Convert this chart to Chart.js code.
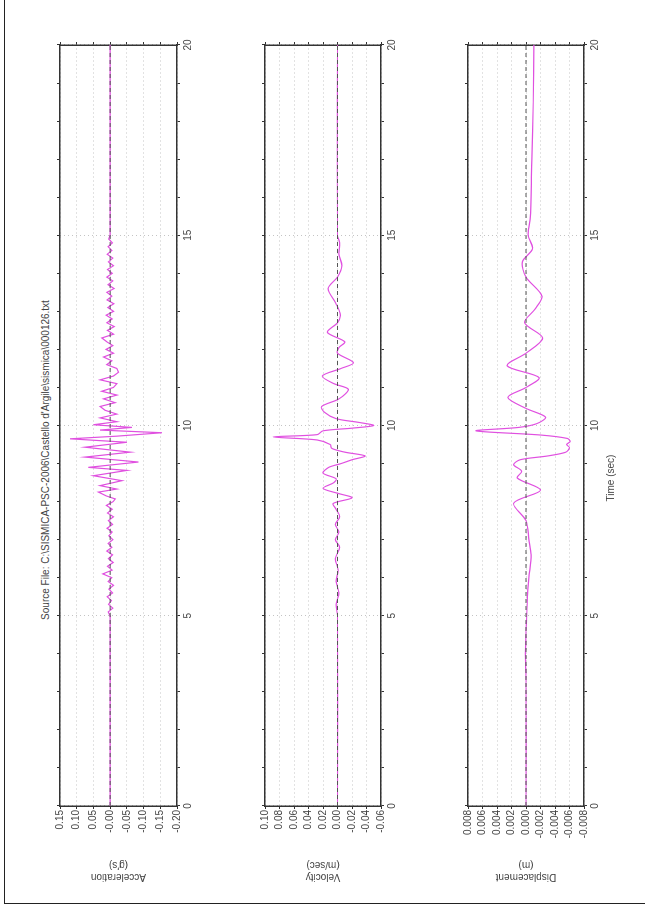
<!DOCTYPE html>
<html>
<head>
<meta charset="utf-8">
<script src="https://cdn.jsdelivr.net/npm/chart.js@4.4.1/dist/chart.umd.min.js"></script>
<style>
  body { margin: 0; background: #fff; width: 645px; height: 913px; overflow: hidden; position: relative; font-family: "Liberation Sans", Arial, sans-serif; }
  #frame { position: absolute; left: 4px; top: -2px; width: 700px; height: 905px; border-left: 1px solid #222; border-bottom: 1px solid #222; }
  /* the whole sheet is drawn landscape, then turned a quarter left */
  #page { position: absolute; left: 0; top: 0; width: 913px; height: 645px; transform-origin: 0 0; transform: translateY(913px) rotate(-90deg); }
  #page canvas { position: absolute; left: 0; }
  .lbl { position: absolute; color: #444; font-size: 10px; white-space: nowrap; transform: translate(-50%, -50%); }
</style>
</head>
<body>
<div id="frame"></div>
<div id="page">
  <div class="lbl" id="source" style="left:453px; top:45px;"></div>
  <canvas id="accChart" width="913" height="177" style="top:30px"></canvas>
  <canvas id="velChart" width="913" height="176" style="top:235px"></canvas>
  <canvas id="dispChart" width="913" height="176" style="top:438px"></canvas>
  <div class="lbl" id="timeTitle" style="left:435px; top:610px;"></div>
</div>
<script>
var sourceFile = "Source File: C:\\SISMICA-PSC-2006\\Castello d'Argile\\sismica\\000126.txt";
var timeTitle = 'Time (sec)';
var timeRange = [0, 20];

var accTitle = ['Acceleration', "(g's)"];
var accRange = [-0.20, 0.15];
var accTime = [0, 5.0, 5.1, 5.2, 5.3, 5.4, 5.5, 5.6, 5.7, 5.8, 5.9,
  6.0, 6.1, 6.2, 6.3, 6.4, 6.5, 6.6, 6.7, 6.8, 6.9,
  7.0, 7.1, 7.2, 7.3, 7.4, 7.5, 7.6, 7.7, 7.8, 7.9,
  8.0, 8.07, 8.15, 8.25, 8.33, 8.42, 8.55, 8.68, 8.82, 8.90,
  9.04, 9.17, 9.30, 9.43, 9.56, 9.65, 9.72, 9.81, 9.88, 9.95,
  10.02, 10.10, 10.2, 10.3, 10.4, 10.5, 10.6, 10.7, 10.8, 10.9,
  11.0, 11.1, 11.2, 11.3, 11.4, 11.5, 11.6, 11.7, 11.8, 11.9,
  12.0, 12.1, 12.2, 12.3, 12.4, 12.5, 12.6, 12.7, 12.8, 12.9,
  13.0, 13.1, 13.2, 13.3, 13.4, 13.5, 13.6, 13.7, 13.8, 13.9,
  14.0, 14.1, 14.2, 14.3, 14.4, 14.5, 14.6, 14.7, 14.8, 14.9,
  15.0, 20];
var accValues = [0, 0, 0.006, -0.008, 0.005, -0.004, 0.009, -0.007, 0.004, -0.010, 0.006,
  -0.005, 0.022, -0.006, 0.008, -0.009, 0.005, -0.007, 0.010, -0.005, 0.006,
  -0.008, 0.004, -0.006, 0.009, -0.007, 0.005, -0.010, 0.008, -0.006, 0.011,
  -0.009, -0.015, 0.012, 0.035, -0.020, 0.030, -0.035, 0.050, -0.050, 0.065,
  -0.085, 0.075, -0.060, 0.075, -0.050, 0.120, -0.020, -0.155, 0.030, -0.065,
  0.050, -0.020, 0.030, -0.020, 0.015, 0.030, -0.015, 0.020, -0.020, 0.025,
  -0.010, -0.020, 0.030, -0.010, -0.025, -0.020, 0.010, -0.005, 0.020, -0.010,
  0.012, -0.008, 0.010, 0.025, -0.010, 0.008, -0.012, 0.010, -0.006, 0.012,
  -0.010, 0.007, -0.011, 0.009, -0.005, 0.010, -0.012, 0.006, -0.008, 0.010,
  -0.006, 0.008, -0.010, 0.005, -0.008, 0.009, -0.005, 0.006, -0.007, 0.004,
  0, 0];

var velTitle = ['Velocity', '(m/sec)'];
var velRange = [-0.06, 0.10];
var velTime = [0, 5.0, 5.3, 5.6, 5.9, 6.2, 6.5, 6.8, 7.0, 7.2, 7.4, 7.6, 7.8, 7.95,
  8.1, 8.22, 8.35, 8.5, 8.6, 8.75, 8.9, 9.0, 9.1, 9.2, 9.3, 9.4, 9.5,
  9.62, 9.70, 9.76, 9.86, 9.93, 10.0, 10.08, 10.18, 10.35, 10.5, 10.7, 10.95,
  11.1, 11.3, 11.5, 11.65, 11.9, 12.05, 12.2, 12.45, 12.7, 12.9, 13.2, 13.6,
  13.9, 14.2, 14.5, 14.8, 15.0, 20];
var velValues = [0, 0, 0.002, -0.002, 0.002, -0.001, 0.003, -0.003, 0.003, -0.002, 0.003, -0.003, 0.002, 0.006,
  -0.020, 0.000, 0.020, 0.005, 0.002, 0.020, 0.012, -0.005, -0.020, -0.038, -0.010, 0.008, 0.010,
  0.028, 0.089, 0.028, 0.020, -0.020, -0.050, -0.030, 0.002, 0.018, 0.022, -0.002, -0.015,
  0.005, 0.021, -0.005, -0.022, 0.000, -0.002, -0.010, 0.014, 0.000, -0.004, 0.002, 0.013,
  0.000, -0.006, -0.002, -0.003, 0, 0];

var dispTitle = ['Displacement', '(m)'];
var dispRange = [-0.008, 0.008];
var dispTime = [0, 3.3, 4.0, 4.6, 5.0, 5.5, 6.0, 6.6, 7.0, 7.5, 7.96,
  8.3, 8.62, 8.8, 8.97, 9.1, 9.2, 9.3, 9.42, 9.5, 9.58, 9.66, 9.75, 9.86, 9.95,
  10.05, 10.22, 10.45, 10.74, 11.0, 11.26, 11.57, 11.9, 12.3, 12.7, 13.05, 13.4,
  13.9, 14.3, 14.65, 15.0, 15.5, 17.0, 18.5, 20];
var dispValues = [0, 0, 0.0001, 0, -0.0001, -0.0002, -0.0004, -0.0007, -0.0004, 0, 0.0017,
  -0.0020, 0.0012, 0.0006, 0.0017, 0.0008, -0.0030, -0.0055, -0.0060, -0.0056, -0.0061, -0.0057, -0.0020, 0.0069, 0.0010,
  -0.0015, -0.0027, 0, 0.0025, 0, -0.0018, 0.0026, 0, -0.0023, 0.0002, -0.0012, -0.0022,
  0, 0.0005, -0.0009, -0.0003, -0.0006, -0.0008, -0.0010, -0.0011];

var FONT = '"Liberation Sans", Arial, sans-serif';
var INK = '#333';
var TEXT = '#444';
var GRID = '#c4c4c4';
var TRACE = '#e050e0';

Chart.defaults.font.family = FONT;
Chart.defaults.font.size = 10;

document.getElementById('source').textContent = sourceFile;
document.getElementById('timeTitle').textContent = timeTitle;

function makePanel(id, times, values, range, step, digits, title, tension) {
  var points = times.map(function(t, i) { return {x: t, y: values[i]}; });
  var zero = [{x: timeRange[0], y: 0}, {x: timeRange[1], y: 0}];
  var frame = {color: INK, width: 1.5, dash: [1, 3]};

  return new Chart(document.getElementById(id), {
    type: 'line',
    data: {
      datasets: [
        {data: zero, borderColor: '#555', borderWidth: 1, borderDash: [4, 3], pointRadius: 0},
        {data: points, borderColor: TRACE, borderWidth: 1.2, pointRadius: 0, tension: tension}
      ]
    },
    options: {
      responsive: false,
      animation: false,
      plugins: {legend: {display: false}, tooltip: {enabled: false}},
      scales: {
        x: {
          type: 'linear', position: 'bottom', min: timeRange[0], max: timeRange[1],
          afterFit: function(s) { s.height = 30; },
          ticks: {
            stepSize: 1, autoSkip: false, maxRotation: 0, padding: 2, color: TEXT,
            callback: function(v) { return v % 5 === 0 ? String(v) : ''; }
          },
          grid: {
            color: function(c) { return c.tick && c.tick.value % 5 === 0 ? GRID : 'rgba(0,0,0,0)'; },
            tickColor: INK, tickLength: 3
          },
          border: frame
        },
        x2: {
          type: 'linear', position: 'top', min: timeRange[0], max: timeRange[1],
          afterFit: function(s) { s.height = 30; },
          ticks: {stepSize: 1, display: false},
          grid: {drawOnChartArea: false, tickColor: INK, tickLength: 3},
          border: frame
        },
        y: {
          type: 'linear', position: 'left', min: range[0], max: range[1],
          afterFit: function(s) { s.width = 107; },
          ticks: {
            stepSize: step, autoSkip: false, padding: 1, color: TEXT,
            callback: function(v) { return Number(v).toFixed(digits); }
          },
          grid: {color: GRID, tickColor: INK, tickLength: 3},
          border: frame,
          title: {display: true, text: title, color: TEXT, font: {size: 10}, padding: {top: 30, bottom: 0}}
        },
        y2: {
          type: 'linear', position: 'right', min: range[0], max: range[1],
          afterFit: function(s) { s.width = 45; },
          ticks: {stepSize: step, autoSkip: false, display: false},
          grid: {drawOnChartArea: false, tickColor: INK, tickLength: 3},
          border: frame
        }
      }
    }
  });
}

makePanel('accChart', accTime, accValues, accRange, 0.05, 2, accTitle, 0);
makePanel('velChart', velTime, velValues, velRange, 0.02, 2, velTitle, 0.3);
makePanel('dispChart', dispTime, dispValues, dispRange, 0.002, 3, dispTitle, 0.3);
</script>
</body>
</html>
